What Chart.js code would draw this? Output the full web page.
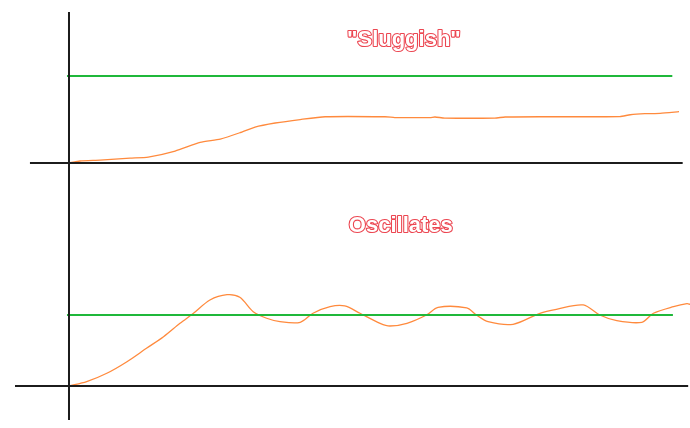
<!DOCTYPE html>
<html>
<head>
<meta charset="utf-8">
<script src="https://cdn.jsdelivr.net/npm/chart.js@4"></script>
<style>
  html, body { margin: 0; padding: 0; background: #fff; }
  #wrap { width: 690px; height: 428px; }
</style>
</head>
<body>
<div id="wrap"><canvas id="chart" width="690" height="428"></canvas></div>
<script>
// time axis is 0..100, response is % of the setpoint
const sluggishTime = [0, 1.8, 5.1, 10, 13, 17.4, 21.5, 24.8, 28, 30.5, 33.8, 37.9, 42, 51.8, 53.4, 55.1, 59.2, 60, 61.6, 69.8, 71.5, 78, 90.3, 92, 94.4, 96.9, 100];
const sluggishResp = [0, 2.3, 3.4, 5.7, 6.9, 13.8, 23.8, 27.6, 34.8, 41.4, 46, 50, 53.2, 53.2, 52.3, 52.1, 52.3, 52.9, 51.7, 51.7, 52.9, 53.2, 53.4, 55.5, 56.7, 57.1, 59];

const oscTime = [0, 2.9, 6.2, 9.5, 12.7, 15.5, 18.2, 20.4, 23.1, 25.9, 28, 30.2, 32.4, 34.6, 37.9, 40, 42.8, 45.2, 47.7, 51, 52.6, 55.4, 58.6, 60.5, 65.2, 66.8, 68.7, 72.8, 77.2, 79.9, 84.3, 87, 89.8, 93.9, 95.8, 99.1, 101.3, 101.8];
const oscResp = [0, 6.1, 17.9, 34.2, 53.1, 69.4, 88.3, 102.4, 121.1, 128.6, 124.9, 104.6, 95.4, 90.6, 89.7, 102.4, 111.7, 112.7, 102.4, 88.3, 84.5, 88.3, 100, 110.8, 109.9, 100, 90.6, 86.9, 102.4, 108, 114.1, 100, 92, 89.7, 102.4, 111.7, 115.9, 115.1];

const setpoint = 100;
const titles = ['"Sluggish"', 'Oscillates'];
const titleTime = [54.9, 54.4];
const titleResp = [134.5, 216.5];

const BLACK = '#1c1c1c';
const GREEN = '#1fb83a';
const ORANGE = '#ff8a3d';

function pts(xs, ys) {
    return xs.map((x, i) => ({x: x, y: ys[i]}));
}

function line(data, color, width, yAxisID, tension) {
    return {
        data: data,
        borderColor: color,
        borderWidth: width,
        pointRadius: 0,
        fill: false,
        tension: tension || 0,
        yAxisID: yAxisID
    };
}

const titlePlugin = {
    id: 'panelTitles',
    afterDatasetsDraw(chart) {
        const ctx = chart.ctx;
        const axes = ['yTop', 'yBot'];
        ctx.save();
        ctx.font = 'bold 22px "Liberation Sans", Arial, sans-serif';
        ctx.textAlign = 'center';
        ctx.textBaseline = 'alphabetic';
        ctx.lineJoin = 'round';
        titles.forEach((t, i) => {
            const x = chart.scales.x.getPixelForValue(titleTime[i]);
            const y = chart.scales[axes[i]].getPixelForValue(titleResp[i]);
            ctx.strokeStyle = '#ec4651';
            ctx.lineWidth = 2.2;
            ctx.strokeText(t, x, y);
            ctx.fillStyle = '#ffffff';
            ctx.fillText(t, x, y);
        });
        ctx.restore();
    }
};

new Chart(document.getElementById('chart'), {
    type: 'line',
    data: {
        datasets: [
            // axes
            line(pts([-6.4, 100.6], [0, 0]), BLACK, 2, 'yTop'),
            line(pts([0, 0], [173.6, -295.4]), BLACK, 2, 'yTop'),
            line(pts([-8.85, 101.5], [0, 0]), BLACK, 2, 'yBot'),
            // setpoints
            line(pts([-0.33, 98.9], [setpoint, setpoint]), GREEN, 2, 'yTop'),
            line(pts([-0.33, 99], [setpoint, setpoint]), GREEN, 2, 'yBot'),
            // responses
            line(pts(sluggishTime, sluggishResp), ORANGE, 1.3, 'yTop', 0.2),
            line(pts(oscTime, oscResp), ORANGE, 1.3, 'yBot', 0.3)
        ]
    },
    options: {
        responsive: false,
        animation: false,
        layout: { padding: 0 },
        parsing: false,
        scales: {
            x: { type: 'linear', min: -11.31, max: 101.8, display: false },
            yTop: { type: 'linear', min: -304.6, max: 187.4, display: false },
            yBot: { type: 'linear', min: -59.2, max: 543.7, display: false }
        },
        plugins: {
            legend: { display: false },
            tooltip: { enabled: false }
        }
    },
    plugins: [titlePlugin]
});
</script>
</body>
</html>
